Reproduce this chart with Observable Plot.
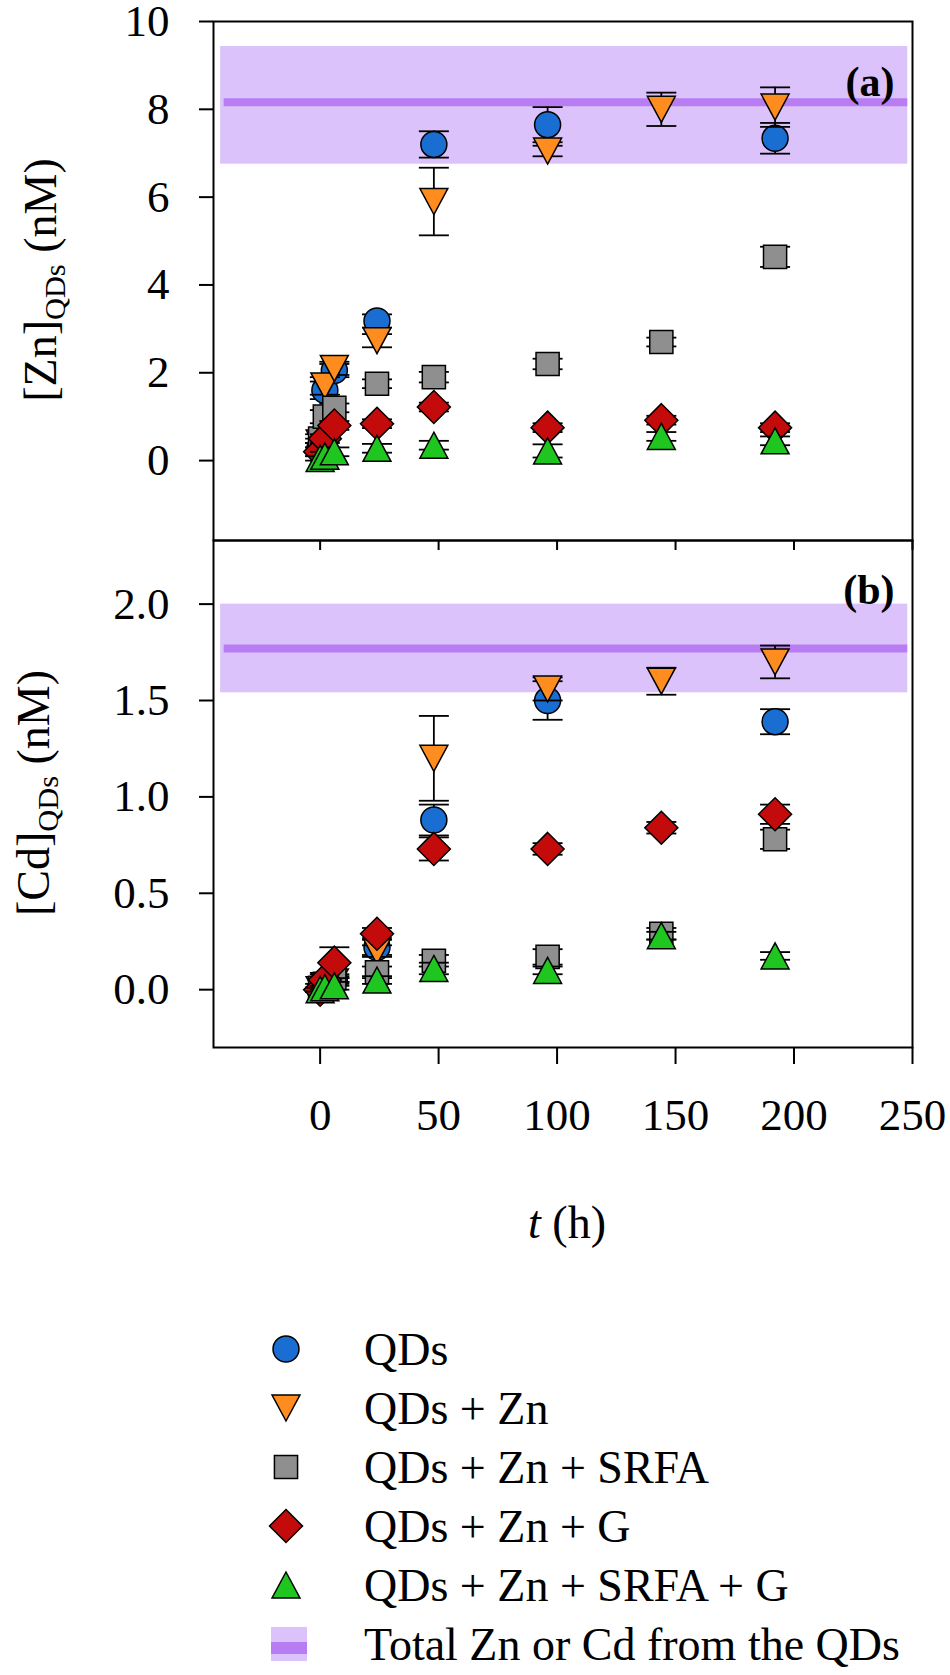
<!DOCTYPE html>
<html><head><meta charset="utf-8">
<script src="https://cdn.jsdelivr.net/npm/d3@7"></script>
<script src="https://cdn.jsdelivr.net/npm/@observablehq/plot@0.6"></script>
<style>
body{margin:0;background:#fff;}
#wrap{position:relative;width:950px;height:1675px;background:#fff;overflow:hidden;font-family:"Liberation Serif","Times New Roman",serif;color:#000;}
.abs{position:absolute;left:0;}
.ytitle{position:absolute;font-size:46px;white-space:nowrap;line-height:1;transform:translate(-50%,-50%) rotate(-90deg);}
.ytitle sub{font-size:0.66em;vertical-align:-0.3em;}
.xtitle{position:absolute;font-size:46px;white-space:nowrap;line-height:1;transform:translate(-50%,-50%);}
</style></head><body><div id="wrap"></div>
<script>
// ---- data ----
const times = [0, 2, 6, 24, 48, 96, 144, 192];
const seriesNames = ["QDs", "QDs + Zn", "QDs + Zn + SRFA", "QDs + Zn + G", "QDs + Zn + SRFA + G"];
const seriesColors = ["#1a6ed2", "#ff8c1e", "#8f8f8f", "#c30b0b", "#20c620"];
const bandLabel = "Total Zn or Cd from the QDs";

// Panel (a): [Zn]QDs (nM)
const znQDs      = [0.30, 1.60, 2.05, 3.18, 7.20, 7.65, null, 7.34];
const znQDsErr   = [0.10, 0.20, 0.15, 0.15, 0.30, 0.40, null, 0.35];
const znZn       = [0.40, 1.70, 2.10, 2.73, 5.90, 7.05, 8.00, 8.05];
const znZnErr    = [0.10, 0.20, 0.15, 0.15, 0.77, 0.12, 0.38, 0.45];
const znSRFA     = [0.50, 1.00, 1.20, 1.75, 1.90, 2.20, 2.70, 4.64];
const znSRFAErr  = [0.10, 0.15, 0.10, 0.10, 0.12, 0.12, 0.10, 0.23];
const znG        = [0.20, 0.50, 0.80, 0.84, 1.22, 0.75, 0.92, 0.75];
const znGErr     = [0.10, 0.10, 0.10, 0.10, 0.10, 0.10, 0.10, 0.10];
const znSG       = [0.05, 0.10, 0.20, 0.28, 0.35, 0.22, 0.55, 0.45];
const znSGErr    = [0.05, 0.10, 0.10, 0.10, 0.10, 0.15, 0.10, 0.10];
const znBand = [6.75, 9.43];
const znTotal = 8.16;

// Panel (b): [Cd]QDs (nM)
const cdQDs      = [0.00, 0.03, 0.05, 0.22, 0.88, 1.50, null, 1.39];
const cdQDsErr   = [0.01, 0.02, 0.02, 0.04, 0.08, 0.10, null, 0.065];
const cdZn       = [0.00, 0.02, 0.04, 0.20, 1.20, 1.56, 1.60, 1.70];
const cdZnErr    = [0.01, 0.02, 0.02, 0.03, 0.22, 0.06, 0.07, 0.085];
const cdSRFA     = [0.01, 0.03, 0.06, 0.09, 0.15, 0.17, 0.29, 0.78];
const cdSRFAErr  = [0.02, 0.03, 0.02, 0.03, 0.03, 0.04, 0.03, 0.05];
const cdG        = [0.00, 0.05, 0.14, 0.29, 0.73, 0.73, 0.84, 0.91];
const cdGErr     = [0.01, 0.03, 0.08, 0.03, 0.06, 0.03, 0.03, 0.05];
const cdSG       = [0.00, 0.01, 0.02, 0.05, 0.11, 0.10, 0.28, 0.175];
const cdSGErr    = [0.01, 0.01, 0.02, 0.02, 0.03, 0.02, 0.02, 0.02];
const cdBand = [1.54, 2.00];
const cdTotal = 1.77;

const bandX = [-42, 248];
const xDomain = [-45, 250];
const xTicks = [0, 50, 100, 150, 200, 250];
const znDomain = [-1.82, 10];
const znTicks = [0, 2, 4, 6, 8, 10];
const cdDomain = [-0.30, 2.33];
const cdTicks = [0.0, 0.5, 1.0, 1.5, 2.0];

// ---- symbols ----
const circleSym = {draw(c, s){ const r = Math.sqrt(s/Math.PI); c.moveTo(r,0); c.arc(0,0,r,0,2*Math.PI); c.closePath(); }};
const squareSym = {draw(c, s){ const r = Math.sqrt(s/Math.PI); const h = 0.89*r; c.moveTo(-h,-h); c.lineTo(h,-h); c.lineTo(h,h); c.lineTo(-h,h); c.closePath(); }};
const diamondSym = {draw(c, s){ const r = Math.sqrt(s/Math.PI); const h = 1.27*r; c.moveTo(0,-h); c.lineTo(h,0); c.lineTo(0,h); c.lineTo(-h,0); c.closePath(); }};
function triSym(up){ return {draw(c, s){ const r = Math.sqrt(s/Math.PI); const w = 2.15*r, h = 2.0*r; const k = up ? 1 : -1; c.moveTo(0,-k*h/2); c.lineTo(w/2,k*h/2); c.lineTo(-w/2,k*h/2); c.closePath(); }}; }
const seriesSymbols = [circleSym, triSym(false), squareSym, diamondSym, triSym(true)];
const capSym = {draw(c){ c.moveTo(-15,0); c.lineTo(15,0); }};

const bandFill = "#dcc2fb";
const lineColor = "#b97df3";
const fontFam = '"Liberation Serif","Times New Roman",serif';

function rowsOf(vals, errs){
  return times.map((t,i)=>({t, y: vals[i], lo: vals[i]==null?null:vals[i]-errs[i], hi: vals[i]==null?null:vals[i]+errs[i]}))
    .filter(d => d.y != null);
}

function panel(cfg){
  const marks = [
    Plot.rect([{x1: bandX[0], x2: bandX[1], y1: cfg.band[0], y2: cfg.band[1]}], {x1:"x1", x2:"x2", y1:"y1", y2:"y2", fill: bandFill}),
    Plot.ruleY([cfg.total], {x1: bandX[0] + 1.5, x2: bandX[1], stroke: lineColor, strokeWidth: 8})
  ];
  cfg.series.forEach((s, i) => {
    const rows = rowsOf(s[0], s[1]);
    marks.push(Plot.ruleX(rows, {x: "t", y1: "lo", y2: "hi", stroke: "black", strokeWidth: 1.8}));
    marks.push(Plot.dot(rows, {x: "t", y: "lo", symbol: capSym, r: 4, fill: "none", stroke: "black", strokeWidth: 1.8}));
    marks.push(Plot.dot(rows, {x: "t", y: "hi", symbol: capSym, r: 4, fill: "none", stroke: "black", strokeWidth: 1.8}));
    marks.push(Plot.dot(rows, {x: "t", y: "y", symbol: seriesSymbols[i], r: 13, fill: seriesColors[i], stroke: "black", strokeWidth: 1.5}));
  });
  marks.push(Plot.frame({stroke: "black", strokeWidth: 2}));
  marks.push(Plot.axisY({ticks: cfg.yTicks, tickSize: 14, tickPadding: 30, tickFormat: cfg.yFormat, fontSize: 45, label: null, strokeWidth: 2}));
  marks.push(Plot.axisX(cfg.xAxis));
  marks.push(Plot.text([cfg.tag], {text: d => d, frameAnchor: "top-right", dx: -18, dy: cfg.tagDy, textAnchor: "end", lineAnchor: "middle", fontWeight: "bold", fontSize: 42}));
  return Plot.plot({
    width: 950, height: cfg.height,
    marginLeft: 213, marginRight: 38, marginTop: cfg.mt, marginBottom: cfg.mb,
    x: {domain: xDomain},
    y: {domain: cfg.yDomain},
    style: {background: "transparent", fontFamily: fontFam, fontSize: "45px", color: "black", overflow: "visible"},
    marks
  });
}

const wrap = document.getElementById("wrap");

const pb = panel({
  height: 720, mt: 5, mb: 208, yDomain: cdDomain, yTicks: cdTicks, yFormat: d3.format(".1f"),
  band: cdBand, total: cdTotal, tag: "(b)", tagDy: 50,
  series: [[cdQDs, cdQDsErr], [cdZn, cdZnErr], [cdSRFA, cdSRFAErr], [cdG, cdGErr], [cdSG, cdSGErr]],
  xAxis: {ticks: xTicks, tickSize: 17, tickPadding: 34, fontSize: 45, label: null, strokeWidth: 2}
});
pb.classList.add("abs"); pb.style.top = "535px"; pb.style.position = "absolute";
wrap.appendChild(pb);

const pa = panel({
  height: 560, mt: 21, mb: 20, yDomain: znDomain, yTicks: znTicks, yFormat: d3.format("d"),
  band: znBand, total: znTotal, tag: "(a)", tagDy: 61,
  series: [[znQDs, znQDsErr], [znZn, znZnErr], [znSRFA, znSRFAErr], [znG, znGErr], [znSG, znSGErr]],
  xAxis: {ticks: xTicks, tickSize: 10, tickFormat: () => "", label: null, strokeWidth: 2}
});
pa.classList.add("abs"); pa.style.top = "0px"; pa.style.position = "absolute"; pa.style.zIndex = 2;
wrap.appendChild(pa);

// axis titles
const ya = document.createElement("div"); ya.className = "ytitle"; ya.style.left = "44px"; ya.style.top = "280px";
ya.innerHTML = "[Zn]<sub>QDs</sub> (nM)"; wrap.appendChild(ya);
const yb = document.createElement("div"); yb.className = "ytitle"; yb.style.left = "37px"; yb.style.top = "793px";
yb.innerHTML = "[Cd]<sub>QDs</sub> (nM)"; wrap.appendChild(yb);
const xt = document.createElement("div"); xt.className = "xtitle"; xt.style.left = "567px"; xt.style.top = "1223px";
xt.innerHTML = "<i>t</i> (h)"; wrap.appendChild(xt);

// legend
const leg = d3.select(wrap).append("svg").attr("class", "abs").style("position", "absolute").style("top", "1280px")
  .attr("width", 950).attr("height", 395).style("font-family", fontFam);
const rowY0 = 69, rowStep = 59, symX = 286, textX = 364;
seriesNames.forEach((name, i) => {
  const y = rowY0 + rowStep * i;
  leg.append("path").attr("transform", `translate(${symX},${y})`)
    .attr("d", d3.symbol().type(seriesSymbols[i]).size(Math.PI * 13 * 13)())
    .attr("fill", seriesColors[i]).attr("stroke", "black").attr("stroke-width", 1.5);
  leg.append("text").attr("x", textX).attr("y", y).attr("dy", "0.35em").attr("font-size", 46).text(name);
});
{
  const y = rowY0 + rowStep * 5;
  leg.append("rect").attr("x", symX - 15).attr("y", y - 17).attr("width", 36).attr("height", 34).attr("fill", bandFill);
  leg.append("rect").attr("x", symX - 15).attr("y", y - 2).attr("width", 36).attr("height", 12).attr("fill", lineColor);
  leg.append("text").attr("x", textX).attr("y", y).attr("dy", "0.35em").attr("font-size", 46).text(bandLabel);
}
</script></body></html>
